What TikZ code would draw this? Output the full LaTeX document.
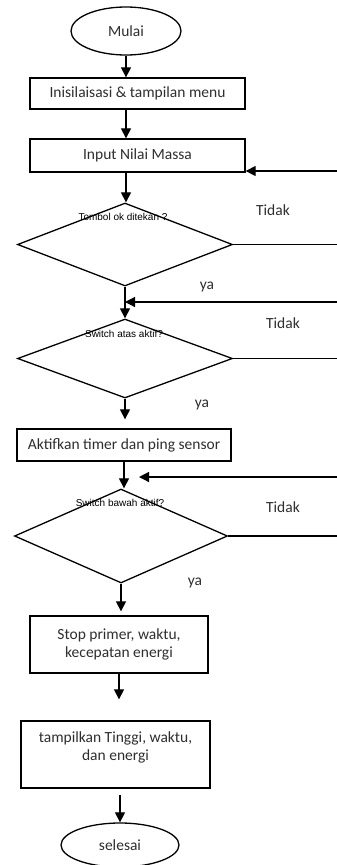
\documentclass[tikz,border=0pt]{standalone}
\usepackage{fontspec}
\setmainfont{Carlito}
\newfontfamily\arialfont{Liberation Sans}
\usetikzlibrary{shapes.geometric,arrows.meta}

\definecolor{ink}{HTML}{2E2E2E}

\tikzset{
	proc/.style={draw,rectangle,line width=1.3pt,inner sep=0pt,align=center,
		text=ink,font=\fontsize{15.5}{18.5}\selectfont},
	term/.style={draw,ellipse,line width=1.3pt,inner sep=0pt,
		text=ink,font=\fontsize{15.5}{18.5}\selectfont},
	dec/.style={draw,diamond,line width=1.3pt,inner sep=0pt},
	qtext/.style={inner sep=0pt,text=black,font=\arialfont\fontsize{10}{12}\selectfont},
	note/.style={inner sep=0pt,text=ink,font=\fontsize{15.5}{18.5}\selectfont},
	flow/.style={line width=1.2pt,-{Triangle[length=10pt,width=10pt]}},
	wire/.style={line width=1.2pt}
}

\begin{document}
\begin{tikzpicture}[x=1pt,y=-1pt]

	\useasboundingbox (0,0) rectangle (337,865);

	% start and first steps
	\node[term,minimum width=110pt,minimum height=48pt] (start) at (126,31) {Mulai};
	\node[proc,minimum width=215pt,minimum height=31pt] (init) at (137.5,93.5) {Inisilaisasi \& tampilan menu};
	\node[proc,minimum width=215pt,minimum height=33pt] (input) at (137.5,155.5) {Input Nilai Massa};

	\draw[flow] (start.south) -- (start.south |- init.north);
	\draw[flow] (start.south |- init.south) -- (start.south |- input.north);

	% tombol ok
	\node[dec,minimum width=215pt,minimum height=83pt] (tombol) at (125,244.5) {};
	\node[qtext] (tombolq) at (123,217) {Tombol ok ditekan ?};
	\draw[flow] (start.south |- input.south) -- (start.south |- tombol.north);

	\coordinate (back1) at (337,171);
	\draw[flow] (back1) -- (back1 -| input.east);
	\draw[wire] (tombol.east) -- (tombol.east -| back1);
	\node[note] (no1) at (273,210) {Tidak};

	% switch atas
	\node[dec,minimum width=215pt,minimum height=79pt] (atas) at (125,358.5) {};
	\node[qtext] (atasq) at (124,334) {Switch atas aktif?};
	\draw[flow] (tombol.south) -- (atas.north);
	\node[note] (yes1) at (207,287) {ya};

	\coordinate (back2) at (337,302);
	\draw[flow] (back2) -- (back2 -| tombol.south);
	\draw[wire] (atas.east) -- (atas.east -| back2);
	\node[note] (no2) at (283,323) {Tidak};

	% timer
	\node[proc,minimum width=214pt,minimum height=32pt] (timer) at (124,445) {Aktifkan timer dan ping sensor};
	\draw[flow,shorten >=9pt] (atas.south) -- (atas.south |- timer.north);
	\node[note] (yes2) at (202,405) {ya};

	% switch bawah
	\node[dec,minimum width=213pt,minimum height=94pt] (bawah) at (121,536) {};
	\node[qtext] (bawahq) at (120,503) {Switch bawah aktif?};
	\draw[flow] (timer.south) -- (timer.south |- bawah.north);

	\coordinate (back3) at (337,477);
	\draw[flow,shorten >=15pt] (back3) -- (back3 -| timer.south);
	\draw[wire] (bawah.east) -- (bawah.east -| back3);
	\node[note] (no3) at (283,507) {Tidak};

	% results
	\node[proc,minimum width=178pt,minimum height=57pt] (stop) at (119,644.5) {Stop primer, waktu,\\kecepatan energi};
	\draw[flow,shorten >=4pt] (bawah.south) -- (bawah.south |- stop.north);
	\node[note] (yes3) at (195,583) {ya};

	\node[proc,minimum width=189pt,minimum height=67pt] (show) at (115.5,754.5) {tampilkan Tinggi, waktu,\\dan energi\\[-2pt]\mbox{}};
	\draw[flow,shorten >=21pt] (stop.south) -- (stop.south |- show.north);

	\node[term,minimum width=118pt,minimum height=44pt] (finish) at (120,845) {selesai};
	\draw[flow,shorten <=6pt] (finish.north |- show.south) -- (finish.north);

\end{tikzpicture}
\end{document}
